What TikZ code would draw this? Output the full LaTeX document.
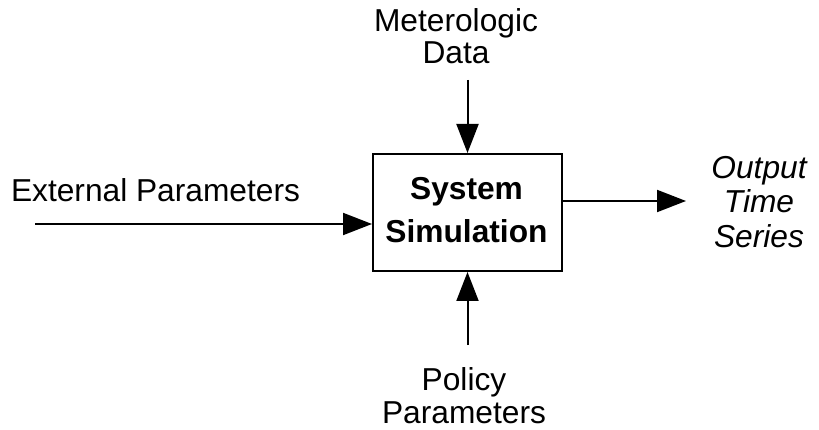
\documentclass[tikz,border=0pt]{standalone}
\usepackage{fontspec}
\setmainfont{Liberation Sans}
\usetikzlibrary{arrows.meta}
\begin{document}
\begin{tikzpicture}[x=1pt,y=-1pt,
  lbl/.style={font=\fontsize{31.7}{35}\selectfont, align=center, inner sep=0pt, anchor=base},
  flow/.style={line width=2pt, -{Triangle[length=29pt,width=22pt]}},
  sysbox/.style={draw, line width=2pt, minimum width=189pt, minimum height=117pt, inner sep=0pt},
  boxtxt/.style={font=\fontsize{31.7}{43}\selectfont\bfseries, align=center, inner sep=0pt, anchor=base}]
\useasboundingbox (0,0) rectangle (819,430);
\node[sysbox] (sys) at (467.5,212.5) {};
\node[boxtxt] (systxt) at (466.5,243) {System\\Simulation};
\node[lbl, font=\fontsize{31.7}{32}\selectfont] (met) at (456,64) {Meterologic\\Data};
\node[lbl] (ext) at (155.5,202) {External Parameters};
\node[lbl, font=\fontsize{31.7}{33}\selectfont] (pol) at (464,423) {Policy\\Parameters};
\node[lbl, font=\fontsize{31.7}{35}\selectfont\itshape] (out) at (759,248) {Output\\Time\\Series};
\coordinate (metS) at (467.5,80);
\coordinate (extS) at (35,224);
\coordinate (polS) at (467.5,345);
\coordinate (outE) at (686,201);
\draw[flow] (metS) -- (sys.north);
\draw[flow] (extS) -- (extS -| sys.west);
\draw[flow] (polS) -- (sys.south);
\draw[flow] (sys.east |- outE) -- (outE);
\end{tikzpicture}
\end{document}
